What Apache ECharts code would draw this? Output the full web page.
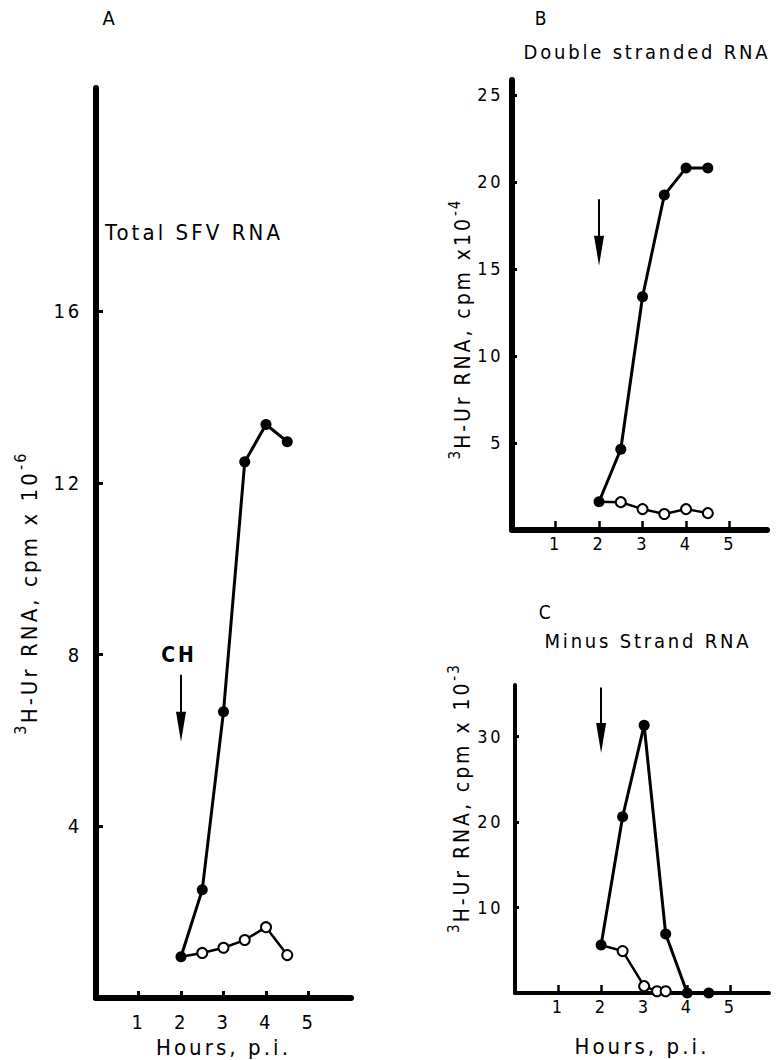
<!DOCTYPE html>
<html><head><meta charset="utf-8">
<script src="https://cdn.jsdelivr.net/npm/echarts@6/dist/echarts.min.js"></script>
<style>
html,body{margin:0;padding:0;background:#fff;}
#chart{width:778px;height:1060px;}
#chart text{letter-spacing:0.14em;}
</style></head><body><div id="chart"></div>
<script>
// ---- data ----
const xTicks = [1, 2, 3, 4, 5];
const yTicksA = [4, 8, 12, 16];
const yTicksB = [5, 10, 15, 20, 25];
const yTicksC = [10, 20, 30];

const hoursA = [2, 2.5, 3, 3.5, 4, 4.5];
const totalFilled = [0.96, 2.52, 6.67, 12.49, 13.36, 12.96];
const totalOpen = [0.96, 1.05, 1.17, 1.35, 1.65, 1.0];

const hoursB = [2, 2.5, 3, 3.5, 4, 4.5];
const dsFilled = [1.62, 4.64, 13.4, 19.24, 20.8, 20.8];
const dsOpen = [1.62, 1.6, 1.2, 0.92, 1.2, 0.97];

const hoursCFilled = [2, 2.5, 3, 3.5, 4, 4.5];
const minusFilled = [5.6, 20.6, 31.3, 6.9, 0, 0];
const hoursCOpen = [2, 2.5, 3, 3.3, 3.5];
const minusOpen = [5.6, 4.9, 0.8, 0.2, 0.2];

const chTime = 2;
const arrowA = [7.53, 6.32];
const arrowB = [19.0, 16.04];
const arrowC = [35.7, 29.8];

// ---- helpers ----
const FF = '"DejaVu Sans Condensed", "DejaVu Sans", sans-serif';
const LS = 0.14;
function zip(xs, ys, firstNone) {
  return xs.map((x, i) => (firstNone && i === 0) ? {value: [x, ys[i]], symbol: 'none'} : [x, ys[i]]);
}
function xAxisCfg(g, max, o) {
  return {
    type: 'value', gridIndex: g, min: 0, max: max,
    axisLine: {onZero: false, lineStyle: {color: '#000', width: o.lw}},
    axisTick: {customValues: xTicks, inside: true, length: o.tl, lineStyle: {color: '#000', width: o.tw}},
    axisLabel: {customValues: xTicks, color: '#000', fontSize: o.fs, fontFamily: FF, margin: o.margin},
    splitLine: {show: false},
    name: o.name || '', nameLocation: 'middle', nameGap: o.nameGap || 0,
    nameTextStyle: {color: '#000', fontSize: 22, fontFamily: FF}
  };
}
function yAxisCfg(g, max, ticks, o) {
  return {
    type: 'value', gridIndex: g, min: 0, max: max,
    axisLine: {onZero: false, lineStyle: {color: '#000', width: o.lw}},
    axisTick: {customValues: ticks, inside: true, length: o.tl, lineStyle: {color: '#000', width: o.tw}},
    axisLabel: {customValues: ticks, color: '#000', fontSize: o.fs, fontFamily: FF, margin: o.margin},
    splitLine: {show: false}
  };
}
function filledSeries(g, xs, ys, lw, arrow) {
  return {
    type: 'line', xAxisIndex: g, yAxisIndex: g, data: zip(xs, ys, false),
    symbol: 'circle', symbolSize: 11, z: 5,
    lineStyle: {color: '#000', width: lw}, itemStyle: {color: '#000'},
    markLine: {
      silent: true, symbol: ['none', 'triangle'], symbolSize: [10, 30],
      lineStyle: {color: '#000', width: 2, type: 'solid'}, label: {show: false},
      data: [[{coord: [chTime, arrow[0]]}, {coord: [chTime, arrow[1]]}]]
    }
  };
}
function openSeries(g, xs, ys) {
  return {
    type: 'line', xAxisIndex: g, yAxisIndex: g, data: zip(xs, ys, true),
    symbol: 'emptyCircle', symbolSize: 10, z: 4,
    lineStyle: {color: '#000', width: 2.5},
    itemStyle: {color: '#000', borderColor: '#000', borderWidth: 2}
  };
}
const mctx = document.createElement('canvas').getContext('2d');
function measureW(text, fs) {
  mctx.font = fs + 'px ' + FF;
  mctx.letterSpacing = (LS * fs) + 'px';
  return mctx.measureText(text).width;
}
function txt(x, y, text, fs, align) {
  return {
    type: 'text', x: x, y: y,
    style: {text: text, fontSize: fs, fontFamily: FF, fill: '#000',
      textAlign: align, textVerticalAlign: 'middle', align: align, verticalAlign: 'middle'}
  };
}
function yName(cx, cy, pre, main, post, fs, fsSup) {
  const w1 = measureW(pre, fsSup), wm = measureW(main, fs), w2 = measureW(post, fsSup);
  const x0 = -(w1 + wm + w2) / 2;
  const rise = fs * 0.4;
  return {
    type: 'group', x: cx, y: cy, rotation: Math.PI / 2,
    children: [
      txt(x0, -rise, pre, fsSup, 'left'),
      txt(x0 + w1, 0, main, fs, 'left'),
      txt(x0 + w1 + wm, -rise, post, fsSup, 'left')
    ]
  };
}
function label(x, y, text, fs, bold) {
  return {
    type: 'text', x: x, y: y,
    style: {text: text, fontSize: fs, fontFamily: FF, fontWeight: bold ? 'bold' : 'normal', fill: '#000',
      textAlign: 'center', textVerticalAlign: 'middle', align: 'center', verticalAlign: 'middle'}
  };
}

const chart = echarts.init(document.getElementById('chart'), null, {renderer: 'svg'});
chart.setOption({
  backgroundColor: '#fff',
  animation: false,
  grid: [
    {left: 96, top: 88, width: 255, height: 910, containLabel: false, outerBoundsMode: 'none'},
    {left: 512, top: 80, width: 255, height: 450, containLabel: false, outerBoundsMode: 'none'},
    {left: 515, top: 685, width: 254, height: 308, containLabel: false, outerBoundsMode: 'none'}
  ],
  xAxis: [
    xAxisCfg(0, 6, {lw: 6, tl: 7, tw: 3, fs: 20, margin: 14, name: 'Hours, p.i.', nameGap: 38}),
    xAxisCfg(1, 5.86, {lw: 6, tl: 9, tw: 2.5, fs: 18, margin: 4}),
    xAxisCfg(2, 5.9, {lw: 4, tl: 8, tw: 2.5, fs: 18, margin: 4, name: 'Hours, p.i.', nameGap: 42})
  ],
  yAxis: [
    yAxisCfg(0, 21.2, yTicksA, {lw: 6, tl: 7, tw: 3, fs: 20, margin: 14}),
    yAxisCfg(1, 25.85, yTicksB, {lw: 6, tl: 5, tw: 3, fs: 18, margin: 9}),
    yAxisCfg(2, 36, yTicksC, {lw: 4, tl: 4, tw: 3, fs: 18, margin: 12})
  ],
  series: [
    openSeries(0, hoursA, totalOpen),
    filledSeries(0, hoursA, totalFilled, 3, arrowA),
    openSeries(1, hoursB, dsOpen),
    filledSeries(1, hoursB, dsFilled, 3, arrowB),
    openSeries(2, hoursCOpen, minusOpen),
    filledSeries(2, hoursCFilled, minusFilled, 3, arrowC)
  ],
  graphic: [
    label(110, 18, 'A', 20),
    label(194, 232, 'Total SFV RNA', 22),
    label(542, 18, 'B', 19),
    label(647, 52, 'Double stranded RNA', 20),
    label(546, 612, 'C', 19),
    label(648, 641, 'Minus Strand RNA', 20),
    label(179, 655, 'CH', 21, true),
    yName(29, 593, '3', 'H-Ur RNA, cpm x 10', '-6', 22, 16),
    yName(463, 329, '3', 'H-Ur RNA, cpm x10', '-4', 21, 15),
    yName(462, 798, '3', 'H-Ur RNA, cpm x 10', '-3', 21, 15)
  ]
});
</script></body></html>
